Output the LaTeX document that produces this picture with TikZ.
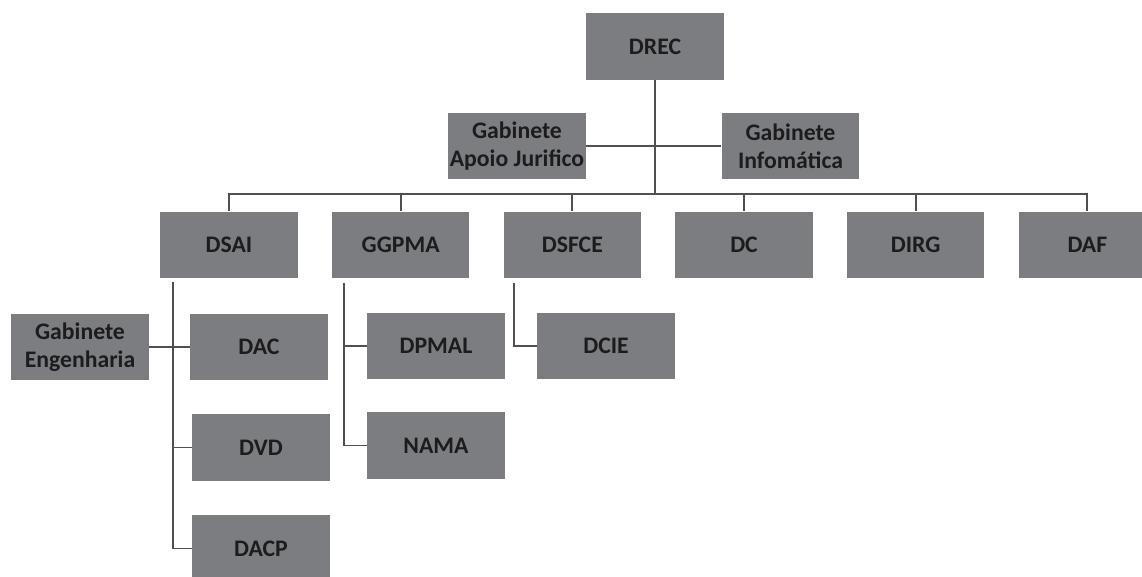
\documentclass[tikz,border=0pt]{standalone}
\usepackage{fontspec}
\setmainfont{Carlito}
\usepackage{tikz}
\usetikzlibrary{positioning, calc}
\definecolor{orgfill}{RGB}{123, 125, 129}
\definecolor{orgtext}{RGB}{28, 28, 30}
\definecolor{orgline}{RGB}{80, 80, 82}

\begin{document}
\begin{tikzpicture}[
  x=0.02cm, y=-0.02cm,
  node distance=0.67cm,
  unit/.style={rectangle, fill=orgfill, draw=none, text=orgtext,
              minimum height=1.34cm, minimum width=2.75cm, align=center,
              inner sep=0pt, font=\fontsize{13.5}{16}\selectfont\bfseries},
  link/.style={draw=orgline, line width=1.1pt},
]
  \useasboundingbox (0,0) rectangle (1142,577);

  % top level
  \node[unit] (drec) at (655,46.5) {DREC};
  \node[unit] (apoio) at (517,146) {Gabinete\\Apoio Jurifico};
  \node[unit] (info) at (790.5,146) {Gabinete\\Infomática};

  % directorates
  \node[unit] (dsai) at (229,245) {DSAI};
  \node[unit, right=of dsai] (ggpma) {GGPMA};
  \node[unit, right=of ggpma] (dsfce) {DSFCE};
  \node[unit, right=of dsfce] (dc) {DC};
  \node[unit, right=of dc] (dirg) {DIRG};
  \node[unit, right=of dirg] (daf) {DAF};

  % sub units
  \node[unit] (eng) at (80,347) {Gabinete\\Engenharia};
  \node[unit] (dac) at (259,347) {DAC};
  \node[unit] (dvd) at (261,447.5) {DVD};
  \node[unit] (dacp) at (261,548.5) {DACP};
  \node[unit] (dpmal) at (436,346) {DPMAL};
  \node[unit] (nama) at (436,445.5) {NAMA};
  \node[unit] (dcie) at (606,346) {DCIE};

  \coordinate (bus) at (655,194);
  \coordinate (dsaiTop) at (173,282);
  \coordinate (ggpmaTop) at (344,283);
  \coordinate (dsfceTop) at (514,283);

  \draw[link] (drec) -- (bus);
  \draw[link] (apoio) -- (info);
  \foreach \n in {dsai,ggpma,dsfce,dc,dirg,daf}
    \draw[link] (bus) -| (\n.north);

  \draw[link] (dsaiTop) |- (dacp.west);
  \draw[link] (dsaiTop |- dvd.west) -- (dvd.west);
  \draw[link] (eng) -- (dac);
  \draw[link] (ggpmaTop) |- (nama.west);
  \draw[link] (ggpmaTop |- dpmal.west) -- (dpmal.west);
  \draw[link] (dsfceTop) |- (dcie.west);
\end{tikzpicture}
\end{document}
